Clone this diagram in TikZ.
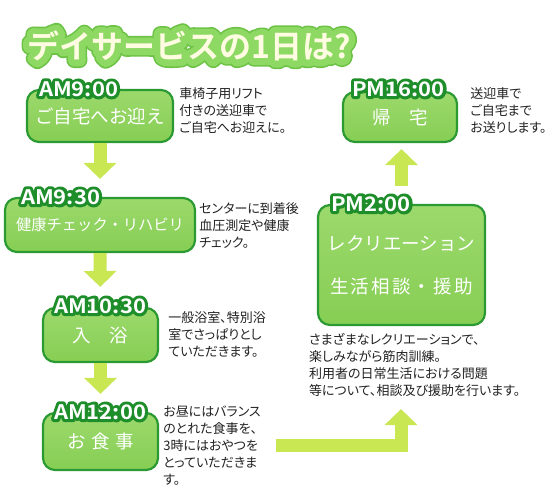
\documentclass[tikz,border=0pt]{standalone}
\usepackage{fontspec}
\usetikzlibrary{arrows.meta,calc,positioning}
\setmainfont{Noto Sans CJK JP}
\newfontfamily\notefont[RawFeature=+palt]{Noto Sans CJK JP}
\newfontfamily\boxfont{Noto Sans CJK JP}
\newfontfamily\widefont[LetterSpace=12]{Noto Sans CJK JP}
\newfontfamily\headfont{Noto Sans CJK JP Bold}
\newfontfamily\headrim[FakeBold=40]{Noto Sans CJK JP Bold}
\newfontfamily\headrimdark[FakeBold=50]{Noto Sans CJK JP Bold}
\newfontfamily\tagfont[FakeStretch=1.1]{Noto Sans CJK JP Bold}
\newfontfamily\tagrim[FakeStretch=1.1,FakeBold=30]{Noto Sans CJK JP Bold}
\definecolor{boxgreen}{HTML}{86CE54}
\definecolor{boxtop}{HTML}{9CD96C}
\definecolor{boxedge}{HTML}{2C9A33}
\definecolor{tagedge}{HTML}{1E8E2B}
\definecolor{arrowlime}{HTML}{C9E752}
\definecolor{titlerim}{HTML}{8ED964}
\definecolor{titleedge}{HTML}{6CC345}
\definecolor{titlecream}{HTML}{FFFCE2}
\definecolor{ink}{HTML}{222222}
\tikzset{stepbox/.style={rounded corners=12pt,top color=boxtop,bottom color=boxgreen,draw=boxedge,line width=2.2pt,text=white,align=center,inner sep=0pt,font=\boxfont\fontsize{18.5}{26}\selectfont},note/.style={inner sep=0pt,align=left,text=ink,font=\notefont\fontsize{13}{17}\selectfont},flow/.style={draw=arrowlime,line width=13pt,-{Triangle[length=16pt,width=32pt]}},tagrimtext/.style={inner sep=0pt,anchor=west,text=tagedge,font=\tagrim\fontsize{20}{20}\selectfont},tagtext/.style={inner sep=0pt,anchor=west,text=white,font=\tagfont\fontsize{20}{20}\selectfont}}
\newcommand\timetag[3]{\node[tagrimtext] (#1) at #2 {#3};\node[tagtext] (#1fill) at #2 {#3};}

\begin{document}
\begin{tikzpicture}[x=1pt,y=1pt]
\fill[white] (0,0) rectangle (559,500);
\useasboundingbox (0,0) rectangle (559,500);
% title
\begin{scope}[line join=round]
\node[inner sep=0pt,text=titleedge,font=\headrimdark\fontsize{32}{32}\selectfont] (titleedge) at (189,454) {デイサービスの1日は?};
\node[inner sep=0pt,text=titlerim,font=\headrim\fontsize{32}{32}\selectfont] (titlerim) at (189,454) {デイサービスの1日は?};
\node[inner sep=0pt,text=titlecream,font=\headfont\fontsize{32}{32}\selectfont] (title) at (189,454) {デイサービスの1日は?};
\end{scope}
% morning
\node[stepbox,minimum width=146pt,minimum height=52pt] (pickup) at (100,384) {ご自宅へお迎え};
\node[stepbox,minimum width=190pt,minimum height=54pt,font=\boxfont\fontsize{15.3}{20}\selectfont] (check) at (100,275) {健康チェック・リハビリ};
\node[stepbox,minimum width=115pt,minimum height=54pt] (bath) at (100.5,165) {入　浴};
\node[stepbox,minimum width=115pt,minimum height=57pt] (meal) at (100.5,58.5) {お\hspace{.3em}食\hspace{.3em}事};
% afternoon
\node[stepbox,minimum width=167pt,minimum height=120pt,font=\boxfont\fontsize{18.5}{43}\selectfont] (rec) at (401.5,235) {レクリエーション\\{\widefont 生活相談・援助}};
\node[stepbox,minimum width=114pt,minimum height=50pt] (home) at (400,383) {帰　宅};
\begin{scope}[line join=round]
\timetag{pickuptag}{($(pickup.north west)+(13,0)$)}{AM9:00}
\timetag{checktag}{($(check.north west)+(17,0)$)}{AM9:30}
\timetag{bathtag}{($(bath.north west)+(12,1)$)}{AM10:30}
\timetag{mealtag}{($(meal.north west)+(12,0)$)}{AM12:00}
\timetag{rectag}{($(rec.north west)+(14,0)$)}{PM2:00}
\timetag{hometag}{($(home.north west)+(10,2)$)}{PM16:00}
\end{scope}
% notes
\node[note,right=5pt of pickup.north east,anchor=north west,yshift=2pt] (pickupnote) {車椅子用リフト\\付きの送迎車で\\ご自宅へお迎えに。};
\node[note,right=3pt of check.north east,anchor=north west,yshift=-5pt] (checknote) {センターに到着後\\血圧測定や健康\\チェック。};
\node[note,right=9pt of bath.north east,anchor=north west,yshift=-4pt] (bathnote) {一般浴室、特別浴\\室でさっぱりとし\\ていただきます。};
\node[note,right=4pt of meal.north east,anchor=north west,yshift=6pt] (mealnote) {お昼にはバランス\\のとれた食事を、\\3時にはおやつを\\とっていただきま\\す。};
\node[note,right=12pt of home.north east,anchor=north west,yshift=4pt] (homenote) {送迎車で\\ご自宅まで\\お送りします。};
\node[note,below=7pt of rec.south west,anchor=north west,xshift=-8pt] (recnote) {さまざまなレクリエーションで、\\楽しみながら筋肉訓練。\\利用者の日常生活における問題\\等について、相談及び援助を行います。};
% arrows
\draw[flow,shorten >=18pt] (pickup.south) -- (check.north);
\draw[flow,shorten >=20pt] (check.south) -- (bath.north);
\draw[flow,shorten >=18pt] (bath.south) -- (meal.north);
\coordinate (bendstart) at ($(meal.east)+(117,-4.5)$);
\coordinate (bendtip) at ($(rec.south)+(-0.5,-83)$);
\draw[flow] (bendstart) -| (bendtip);
\draw[flow,shorten <=18pt,shorten >=6pt] (rec.north) -- (rec.north |- home.south);
\end{tikzpicture}
\end{document}
